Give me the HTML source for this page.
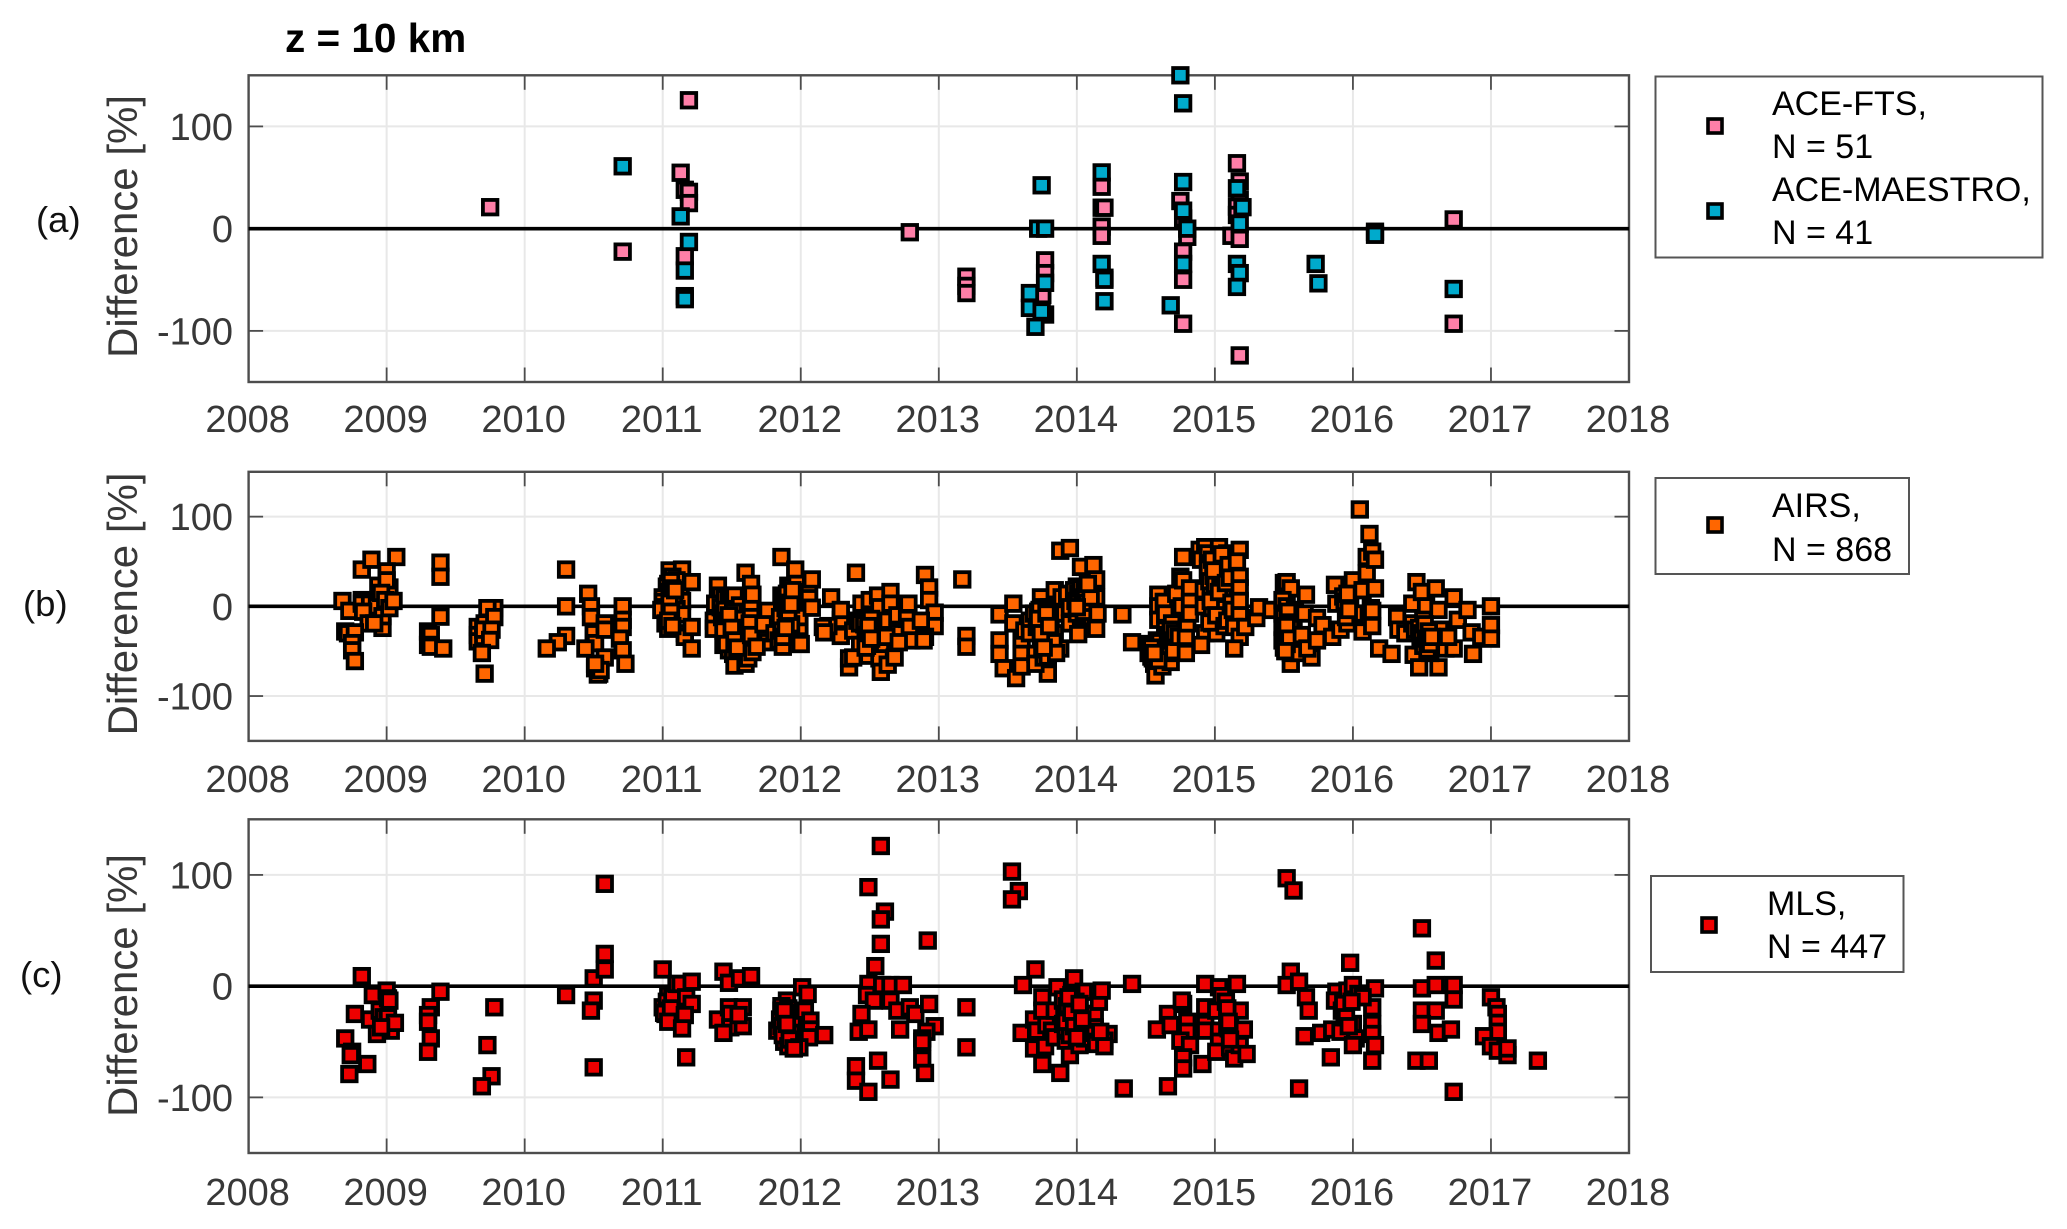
<!DOCTYPE html>
<html lang="en">
<head>
<meta charset="utf-8">
<title>z = 10 km difference time series</title>
<style>
html,body{margin:0;padding:0;background:#fff;}
svg{display:block;font-family:"Liberation Sans",Arial,sans-serif;}
</style>
</head>
<body>
<svg id="figure" xmlns="http://www.w3.org/2000/svg" width="2067" height="1229" viewBox="0 0 2067 1229">
  <rect x="0" y="0" width="2067" height="1229" fill="#fff"/>
  <text x="285" y="52" font-size="40.5" font-weight="bold" fill="#000">z = 10 km</text>
  <text x="36" y="232" font-size="36.5" fill="#111">(a)</text>
  <text x="23" y="616" font-size="36.5" fill="#111">(b)</text>
  <text x="20" y="987" font-size="36.5" fill="#111">(c)</text>
  <g id="panels"></g>

  <g>
    <rect x="1655.5" y="76.5" width="387" height="181" fill="#fff" stroke="#555" stroke-width="2"/>
    <rect x="1708" y="119" width="14" height="14" fill="#ff7fa8" stroke="#000" stroke-width="3.6"/>
    <rect x="1708" y="204" width="14" height="14" fill="#00aacc" stroke="#000" stroke-width="3.6"/>
    <text x="1772" y="115" font-size="34" fill="#000">ACE-FTS,</text>
    <text x="1772" y="158" font-size="34" fill="#000">N = 51</text>
    <text x="1772" y="201" font-size="34" fill="#000">ACE-MAESTRO,</text>
    <text x="1772" y="244" font-size="34" fill="#000">N = 41</text>
  </g>
  <g>
    <rect x="1655.5" y="478" width="253.5" height="96" fill="#fff" stroke="#555" stroke-width="2"/>
    <rect x="1708" y="518" width="14" height="14" fill="#ff6600" stroke="#000" stroke-width="3.6"/>
    <text x="1772" y="517" font-size="34" fill="#000">AIRS,</text>
    <text x="1772" y="561" font-size="34" fill="#000">N = 868</text>
  </g>
  <g>
    <rect x="1651" y="876" width="252.5" height="96" fill="#fff" stroke="#555" stroke-width="2"/>
    <rect x="1702" y="918" width="14" height="14" fill="#ee0000" stroke="#000" stroke-width="3.6"/>
    <text x="1767" y="915" font-size="34" fill="#000">MLS,</text>
    <text x="1767" y="958" font-size="34" fill="#000">N = 447</text>
  </g>
</svg>
<script>
const xTickYears = [2008,2009,2010,2011,2012,2013,2014,2015,2016,2017,2018];
const yTickValues = [-100,0,100];
const xDomain = [2008,2018];
const yDomain = [-150,150];

const aceFtsYears = [2009.75,2011.19,2011.13,2011.16,2011.19,2011.19,2010.71,2011.16,2011.16,2012.79,
2013.2,2013.2,2013.2,2013.77,2013.77,2013.75,2013.77,2014.18,2014.18,2014.2,
2014.18,2014.18,2014.75,2014.77,2014.8,2014.77,2014.77,2014.77,2015.16,2015.18,
2015.18,2015.16,2015.16,2015.12,2015.18,2015.18,2016.16,2016.73,2016.73];
const aceFtsValues = [21,125.6,54.7,38,36,25,-22.5,-27,-66,-3.5,
-47,-56,-63,-31,-43.5,-65,-84,41,20.5,20.5,
2,-7,27,10,-8,-22.5,-50,-93,64,46,
28,21.5,13.4,-7,-10,-124,-3,9,-93];

const aceMaestroYears = [2010.71,2011.13,2011.19,2011.16,2011.16,2013.745,2013.72,2013.77,2013.77,2013.66,
2013.66,2013.745,2013.70,2014.18,2014.18,2014.2,2014.2,2014.2,2014.75,2014.77,
2014.77,2014.77,2014.8,2014.77,2014.68,2015.16,2015.2,2015.18,2015.16,2015.18,
2015.16,2015.73,2015.75,2016.16,2016.73];
const aceMaestroValues = [61,12,-13,-41,-69,42.4,0,0,-53,-63,
-77.5,-81,-96,55,-34.5,-48,-50,-71,150,122.6,
45.6,17.6,0,-34.5,-75,39.5,21,5,-34.5,-43.5,
-57,-34.5,-53.5,-6,-59];

const airsYears = [
2008.68,2008.73,2008.82,2008.89,2009.07,2009.0,2008.94,2009.02,2009.0,2008.82,
2008.82,2008.88,2008.93,2008.83,2008.87,2008.97,2008.97,2008.91,2008.7,2008.72,
2008.77,2008.75,2008.75,2008.77,2008.96,2008.99,2009.02,2009.05,
2009.39,2009.39,2009.39,2009.3,2009.32,2009.3,2009.32,2009.41,
2009.78,2009.73,2009.66,2009.66,2009.66,2009.71,2009.70,2009.70,2009.78,2009.76,
2009.75,2009.69,2009.71,
2010.3,2010.3,2010.3,2010.24,2010.16,2010.46,2010.48,2010.48,2010.5,2010.51,
2010.44,2010.58,2010.58,2010.71,2010.71,2010.71,2010.69,2010.71,2010.73,2010.58,
2010.51,2010.54,2010.53,2010.55,2010.51,
2011.05,2011.14,2011.07,2011.04,2011.03,2011.0,2011.0,2011.05,2011.1,2011.13,
2011.14,2011.08,2011.0,2010.99,2011.05,2011.1,2011.14,2011.05,2011.02,2011.05,
2011.04,2011.16,2011.16,2011.21,2011.21,2011.21,
2011.06,2011.07,2011.08,2011.05,2011.06,2011.09,2011.04,2011.07,
2011.4,2011.42,2011.38,2011.37,2011.37,2011.42,2011.43,2011.45,2011.48,2011.5,
2011.52,2011.45,2011.49,2011.52,2011.55,2011.56,2011.46,2011.49,2011.52,2011.56,
2011.58,2011.44,2011.48,2011.51,2011.55,2011.52,2011.6,2011.62,
2011.44,2011.46,2011.48,2011.5,2011.52,2011.54,2011.56,2011.45,2011.47,2011.49,
2011.51,2011.53,2011.55,2011.57,2011.44,2011.46,2011.48,2011.5,2011.52,2011.54,
2011.6,2011.64,2011.65,2011.64,2011.64,2011.63,2011.64,2011.65,2011.76,2011.73,
2011.76,2011.68,2011.81,2011.84,2011.87,2011.86,2011.96,2011.91,2011.86,2011.9,
2011.93,2011.97,2011.87,2011.85,2011.91,2011.95,2011.9,2011.86,2011.94,2011.99,
2011.99,2011.99,2012.06,2012.06,2012.08,2012.08,2012.0,2011.87,
2011.88,2011.89,2011.9,2011.91,2011.92,2011.93,2011.94,2011.89,2011.91,2011.93,
2012.22,2012.29,2012.29,2012.29,2012.2,2012.16,2012.17,2012.4,2012.35,2012.35,
2012.38,2012.41,2012.43,2012.43,2012.38,2012.44,2012.48,2012.5,2012.47,2012.5,
2012.49,2012.53,2012.56,2012.57,2012.56,2012.58,2012.57,2012.58,2012.63,2012.68,
2012.46,2012.47,2012.48,2012.49,2012.5,2012.51,2012.52,2012.47,2012.49,2012.51,
2012.65,2012.65,2012.63,2012.7,2012.7,2012.62,2012.78,2012.77,2012.79,2012.8,
2012.71,2012.9,2012.93,2012.93,2012.97,2012.97,2012.9,2012.87,2012.89,
2013.17,2013.2,2013.2,
2013.44,2013.54,2013.44,2013.44,2013.47,2013.56,2013.54,2013.6,2013.6,2013.6,
2013.79,2013.88,2013.62,2013.66,2013.66,2013.69,2013.7,2013.7,2013.71,2013.74,
2013.75,2013.75,2013.76,2013.78,2013.79,2013.8,2013.8,2013.84,2013.85,2013.84,
2013.89,2013.91,2013.93,2013.95,2013.95,2014.0,2014.02,2014.01,2014.03,
2013.72,2013.73,2013.74,2013.75,2013.76,2013.77,2013.78,2013.79,2013.73,2013.75,
2013.77,2013.79,2013.81,2013.83,2013.85,2013.72,2013.74,2013.76,2013.78,2013.8,
2013.98,2013.99,2014.0,2014.01,2014.02,2014.03,2014.04,2014.05,2014.06,2014.07,
2013.88,2013.95,2014.03,2014.12,2014.14,2014.14,2014.15,2014.14,2014.1,2014.08,
2014.0,2014.33,2014.4,
2014.53,2014.52,2014.54,2014.58,2014.56,2014.57,2014.62,2014.68,2014.59,2014.59,
2014.59,2014.63,2014.64,2014.64,2014.69,2014.69,2014.68,
2014.53,2014.54,2014.55,2014.56,2014.57,2014.58,2014.59,2014.6,2014.54,2014.56,
2014.66,2014.67,2014.68,2014.69,2014.7,2014.71,
2014.75,2014.77,2014.72,2014.76,2014.77,2014.74,2014.79,2014.79,2014.8,2014.82,
2014.82,2014.82,2014.89,2014.93,2014.9,2014.92,2014.92,2014.93,2014.9,2014.95,
2014.95,2014.97,2014.98,2014.98,2014.99,2015.03,2015.04,2015.03,2015.03,2015.03,
2015.01,2015.11,2015.11,2015.09,2015.09,
2014.95,2014.96,2014.97,2014.98,2014.99,2015.0,2015.01,2015.02,2015.03,2015.04,
2015.05,2015.06,2014.96,2014.98,2015.0,2015.02,2015.04,2015.06,2014.97,2014.99,
2015.01,2015.03,2015.05,2015.07,2015.08,2015.1,2015.12,2015.09,2015.11,2015.13,
2015.18,2015.16,2015.18,2015.18,2015.18,2015.18,2015.14,2015.18,2015.14,2015.22,
2015.3,2015.32,2015.41,
2015.5,2015.52,2015.55,2015.49,2015.49,2015.49,2015.49,2015.52,2015.52,2015.55,
2015.55,2015.57,2015.58,2015.61,
2015.5,2015.51,2015.52,2015.53,2015.54,2015.55,2015.5,2015.52,2015.54,2015.51,
2015.66,2015.65,2015.63,2015.7,2015.67,2015.74,2015.78,2015.74,2015.85,2015.87,
2015.88,2015.91,2015.93,2015.96,2016.0,2015.98,2016.01,2016.07,2016.07,2016.1,
2016.13,2016.1,2016.14,2016.16,2016.05,2016.12,2016.16,2016.14,2016.14,2016.19,2016.28,
2015.94,2015.95,2015.96,2015.97,
2016.32,2016.33,2016.38,2016.43,2016.46,2016.5,2016.6,2016.43,2016.45,2016.44,
2016.48,2016.62,2016.53,2016.51,2016.53,2016.56,2016.58,2016.6,2016.62,2016.63,
2016.67,2016.73,2016.73,2016.76,2016.69,2016.83,2016.87,2016.86,2016.93,2017.0,
2017.0,2017.0,
2016.48,2016.49,2016.5,2016.51,2016.52,2016.53,2016.54,2016.55,2016.56,2016.57];
const airsValues = [
6,-5,41,52,55,39,23,21,29,7,
3,3,0,-6,-19,-24,-11,-19,-28,-30,
-29,-41,-49,-61,15,7,-2,6,
48.7,33,-11.5,-28,-32,-43,-45,-47,
-2,-2,-23,-32,-39,-19,-34,-26,-12,-26,
-37.5,-52,-75,
41,0,-33,-40,-47,14,0,-12,-30,-41,
-47,-19,-26,0,-15,-23,-36,-49,-64,-57,
-69,-75,-76,-71,-64,
40,41,33,25,22,10,5,16,29,16,
6,7,-1,-4,1,-3,-9,-14,-19,-23,
-25,-30,-34,27,-23,-47,
28,20,12,4,-6,18,-16,-22,
23,12,3,-16,-25,-1,-12,9,7,9,
12,-4,-8,-3,-8,1,-19,-27,-30,-23,
-30,-43,-49,-53,-57,-66,-64,-58,
-8,-22,-35,-12,-28,-40,-18,-4,-16,-31,
-6,-20,-36,-14,-27,-42,-10,-24,-38,-46,
37.5,25,13,-3,-12,-19,-32,-51,-5,-20,
-40,-45,-30,-38,-45,55,41,23,12,10,
22,25,-1,-12,-4,3,-19,-27,-19,-33,
-23,-12,16,9,30,-1.5,-42,-34,
8,-2,14,-12,4,-20,18,-24,-6,2,
10,-15,-33,-4,-22,-23,-29,37.5,-68,-58,
-27,-16,-19,-43,-57,3,-23,7,-34,-42,
-55,-16,12,-1,-27,-47,-58,-73,-65,-57,
-20,-32,-44,-26,-38,-14,-30,-46,-22,-36,
16,3,-16,-10,-30,-34,3,-14,-23,-38,
-40,35,21,7,-7,-22,-34,-16,-38,
30,-33,-45,
-9,3,-38,-53,-69,-80,-19,-38,-53,-67,
-75,-47,-27,-16,-30,-8,-53,-64,-23,10,
-1,-34,-57,-16,-42,-1,-27,18,-4,-30,
10,-8,14,-1,-19,22,7,-31,-12,
-6,-20,-36,-48,-12,-28,-42,-56,-4,-18,
-32,-10,-24,-40,-52,-14,-30,-46,-8,-22,
18,6,-8,14,-2,20,10,-6,16,4,
62,65,44,46,30,10,-8,-25,10,25,
-1,-9,-40,
-45,-52,-56,-38,-64,-77,-67,-62,13,0,
-15,5,-8,-26,-19,-41,-52,
-42,-50,-58,-44,-54,-48,-60,-40,-46,-52,
-32,-44,-26,-38,-50,-30,
33,55,14,0,29,-34,-52,-34,-19,20,
5,-8,63,66,52,18,0,-30,-43,59,
37,48,18,-19,0,66,52,37,18,-19,
-30,29,11,59,-12,
42,28,12,-6,34,48,20,2,-14,30,
10,44,-18,52,24,-2,36,14,6,40,
-10,16,58,-22,26,46,4,-16,32,-4,
63,50,33,20,6,-10,-23,-34,-47,-23,
-13,-1,-4,
26,27,20,7,-8,-23,-38,0,-26,-64,
-52,-19,-4,-52,
-12,-28,-42,-6,-34,-18,-46,-22,-36,-50,
13,-8,-32,-57,-47,-13,-21,-38,-34,24,
3,-26,11,-19,29,0,-8,18,-28,37,
-2,55,61,52,108,80.7,20,-5,-22,-47,-53,
5,-12,14,-4,
-12,-26,-30,3,27,16,20,-19,-26,-54,
-68,-68,0,-15,-30,-52,-26,-45,-4,-26,
-47,-47,10,-15,-34,-4,-53,-29,-34,0,
-21,-36,
-24,-38,-30,-44,-20,-36,-48,-28,-42,-34];

const mlsYears = [
2008.7,2008.73,2008.75,2008.74,2008.77,2008.82,2008.86,2008.88,2008.9,2008.95,
2008.93,2009.0,2009.01,2009.02,2008.98,2009.01,2009.03,2009.06,2008.96,
2009.39,2009.32,2009.3,2009.3,2009.32,2009.3,2009.78,2009.73,2009.76,2009.69,
2010.3,2010.5,2010.58,2010.58,2010.58,2010.5,2010.48,2010.5,
2011.0,2011.0,2011.02,2011.04,2011.05,2011.08,2011.09,2011.03,2011.05,2011.07,
2011.01,2011.06,2011.04,2011.1,2011.13,2011.21,2011.17,2011.21,2011.16,2011.14,2011.17,
2011.44,2011.4,2011.48,2011.56,2011.64,2011.48,2011.49,2011.49,2011.44,2011.58,
2011.58,2011.55,
2011.9,2011.86,2011.87,2011.83,2011.85,2011.86,2011.87,2011.88,2011.89,2011.9,
2011.91,2011.92,2011.93,2011.94,2011.86,2011.88,2011.9,2011.92,2011.94,2011.87,
2011.89,2011.91,2011.93,2011.88,2011.9,2011.92,2011.95,2012.01,2012.05,2012.03,
2012.07,2012.07,2012.06,2012.17,2011.99,2011.95,
2012.58,2012.49,2012.61,2012.58,2012.58,2012.92,2012.54,2012.49,2012.48,2012.59,
2012.65,2012.74,2012.53,2012.65,2012.7,2012.79,2012.83,2012.93,2012.44,2012.42,
2012.49,2012.72,2012.97,2012.91,2012.88,2012.88,2012.88,2012.9,2012.56,2012.65,
2012.4,2012.4,2012.49,2013.2,2013.2,
2013.53,2013.58,2013.53,2013.7,2013.61,2013.75,
2013.6,2013.69,2013.69,2013.75,2013.71,2013.75,2013.77,2013.78,2013.82,2013.86,
2013.84,2013.84,2013.88,2013.92,2013.9,2013.9,2013.94,2013.94,2013.98,2013.95,
2013.98,2013.98,2014.0,2014.0,2014.02,2014.05,2014.04,2014.07,2014.06,2014.13,
2014.16,2014.18,2014.13,2014.14,2014.23,2014.2,2014.2,2014.17,
2013.9,2013.91,2013.92,2013.93,2013.94,2013.95,2013.96,2013.97,2013.98,2013.99,
2014.0,2014.01,2014.02,2013.92,2013.94,2013.96,2013.98,2014.0,2014.02,2014.04,
2014.4,2014.34,2014.66,2014.58,2014.66,2014.68,2014.77,2014.76,2014.8,2014.8,
2014.75,2014.82,2014.77,2014.77,2014.91,2014.93,2015.03,2015.16,2014.93,2014.93,
2014.93,2015.05,2015.01,2015.03,2015.03,2015.01,2015.11,2015.09,2015.11,2015.14,
2015.18,2015.21,2015.18,2015.23,
2015.08,2015.09,2015.1,2015.11,2015.09,2015.1,
2015.52,2015.57,2015.55,2015.52,2015.61,2015.66,2015.68,2015.65,2015.77,2015.84,2015.61,
2015.98,2015.88,2015.87,2015.92,2015.96,2016.0,2016.04,2015.85,2015.91,2015.94,
2016.0,2016.02,2016.0,2016.16,2016.14,2016.14,2016.14,2016.16,2016.14,2016.07,
2015.93,2015.95,2015.97,2015.99,
2016.6,2016.5,2016.6,2016.73,2016.73,2016.5,2016.6,2016.5,2016.62,2016.71,
2016.46,2016.55,2016.73,2016.5,
2017.0,2017.04,2017.05,2017.05,2017.05,2016.95,2017.0,2017.05,2017.12,2017.12,2017.34];
const mlsValues = [
-47,-79,-59,-62,-25,9,-70,-30,-8,-22,
-43,-4,-11,-13,-28,-28,-40,-33,-37,
-5,-19,-26,-32,-47,-59,-19,-53,-81,-90,
-8,7,15,29,92,-13,-22,-73,
15,-19,-25,-8,-28,-16,-30,-14,-22,-10,
-24,-20,-32,2,2,4,-10,-16,-26,-38,-64,
13,-30,3,7,9,-19,-25,-37,-42,-19,
-36,-26,
-13,-22,-31,-40,-30,-18,-40,-26,-46,-34,
-20,-44,-28,-38,-36,-50,-24,-52,-32,-44,
-28,-54,-42,-22,-34,-48,-56,-1,-7,-22,
-31,-39,-46,-44,-55,-56,
126,89,67,60,38,41,18,2,-8,1,
1,1,-13,-13,-22,-19,-25,-16,-25,-41,
-39,-39,-36,-41,-47,-50,-66,-78,-67,-84,
-72,-85,-95,-19,-55,
103,85.5,78,15,1,-10,
-42,-30,-56,-70,-40,-22,-54,-35,-40,-1,
-22,-46,-78,-49,-13,-34,-19,-40,7,-62,
-7,-28,-19,-37,-53,-5,-25,-31,-47,-25,
-14,-4,-37,-52,-43,-49,-54,-41,
-12,-26,-38,-18,-30,-44,-8,-22,-34,-14,
-28,-42,-20,-32,-10,-24,-36,-46,-16,-30,
2,-92,-90,-39,-25,-35,-16,-13,-32,-41,
-49,-53,-64,-74,-70,2,-1,2,-19,-34,
-40,-9,-22,-40,-50,-59,-25,-37,-55,-65,
-22,-39,-53,-61,
-14,-26,-38,-48,-20,-32,
97,86,13,1,4,-10,-22,-45,-42,-64,-92,
21,-5,-13,-22,-4,1,-7,-39,-41,-25,
-34,-47,-53,-2,-19,-34,-43,-53,-67,-10,
-16,-28,-36,-14,
23,-2,1,1,-12,-22,-22,-34,-42,-39,
-67,-67,-95,52,
-10,-19,-25,-33,-41,-45,-54,-58,-62,-56,-67];

const markerSize = 14.5;
const markerStroke = 3.8;
const panelFrames = [
  {key:'a', left:248.6, right:1629, top:75.3, bottom:382,   tickY:432, yLabel:226.5},
  {key:'b', left:248.6, right:1629, top:471.8, bottom:740.9, tickY:792, yLabel:604},
  {key:'c', left:248.6, right:1629, top:819.3, bottom:1153,  tickY:1205, yLabel:985.5}
];
const panelSeries = {
  a:[{name:'ace-fts',fill:'#ff7fa8',years:aceFtsYears,values:aceFtsValues},
     {name:'ace-maestro',fill:'#00aacc',years:aceMaestroYears,values:aceMaestroValues}],
  b:[{name:'airs',fill:'#ff6600',years:airsYears,values:airsValues}],
  c:[{name:'mls',fill:'#ee0000',years:mlsYears,values:mlsValues}]
};
const NS = 'http://www.w3.org/2000/svg';
const root = document.getElementById('panels');

function make(tag, attrs, parent){
  const el = document.createElementNS(NS, tag);
  for (const k in attrs) el.setAttribute(k, attrs[k]);
  parent.appendChild(el);
  return el;
}

panelFrames.forEach(function(frame){
  const group = make('g', {}, root);
  
  
  const xScale = function(v){ return frame.left + (v - xDomain[0]) / (xDomain[1] - xDomain[0]) * (frame.right - frame.left); };
  const yScale = function(v){ return frame.bottom - (v - yDomain[0]) / (yDomain[1] - yDomain[0]) * (frame.bottom - frame.top); };

  xTickYears.forEach(function(year){
    const x = xScale(year);
    if (year > xDomain[0] && year < xDomain[1]) {
      const grid = make('line', {x1:x, x2:x, y1:frame.top, y2:frame.bottom, stroke:'#e8e8e8', 'stroke-width':2}, group);
      
      
    }
  });
  yTickValues.forEach(function(val){
    if (val === 0) return;
    const y = yScale(val);
    const grid = make('line', {x1:frame.left, x2:frame.right, y1:y, y2:y, stroke:'#e8e8e8', 'stroke-width':2}, group);
    
    
  });

  const box = make('rect', {x:frame.left, y:frame.top, width:frame.right-frame.left, height:frame.bottom-frame.top, fill:'none', stroke:'#4d4d4d', 'stroke-width':2.4}, group);
  
  

  xTickYears.forEach(function(year){
    const x = xScale(year);
    if (year > xDomain[0] && year < xDomain[1]) {
      [[frame.top, frame.top+14.5],[frame.bottom-14.5, frame.bottom]].forEach(function(span){
        const tick = make('line', {x1:x, x2:x, y1:span[0], y2:span[1], stroke:'#4d4d4d', 'stroke-width':1.8}, group);
        
        
      });
    }
    const label = make('text', {x:x-1, y:frame.tickY, 'text-anchor':'middle', 'font-size':38, fill:'#383838'}, group);
    
    
    label.textContent = String(year);
  });

  yTickValues.forEach(function(val){
    const y = yScale(val);
    if (val !== 0) {
      [[frame.left, frame.left+14.5],[frame.right-14.5, frame.right]].forEach(function(span){
        const tick = make('line', {x1:span[0], x2:span[1], y1:y, y2:y, stroke:'#4d4d4d', 'stroke-width':1.8}, group);
        
        
      });
    }
    const label = make('text', {x:233, y:y+13.5, 'text-anchor':'end', 'font-size':38, fill:'#383838'}, group);
    
    
    label.textContent = String(val);
  });

  const title = make('text', {transform:'translate(137,'+frame.yLabel+') rotate(-90)', 'text-anchor':'middle', 'font-size':42, fill:'#383838'}, group);
  
  
  title.textContent = 'Difference [%]';

  const zero = make('line', {x1:frame.left, x2:frame.right, y1:yScale(0), y2:yScale(0), stroke:'#000', 'stroke-width':3.6}, group);
  
  

  panelSeries[frame.key].forEach(function(series){
    const seriesGroup = make('g', {}, group);
    
    
    const count = Math.min(series.years.length, series.values.length);
    for (let i = 0; i < count; i++) {
      const cx = xScale(series.years[i]);
      const cy = yScale(series.values[i]);
      const mark = make('rect', {x:cx-markerSize/2, y:cy-markerSize/2, width:markerSize, height:markerSize, fill:series.fill, stroke:'#000', 'stroke-width':markerStroke}, seriesGroup);
      
      
    }
  });
});
</script>
</body>
</html>
